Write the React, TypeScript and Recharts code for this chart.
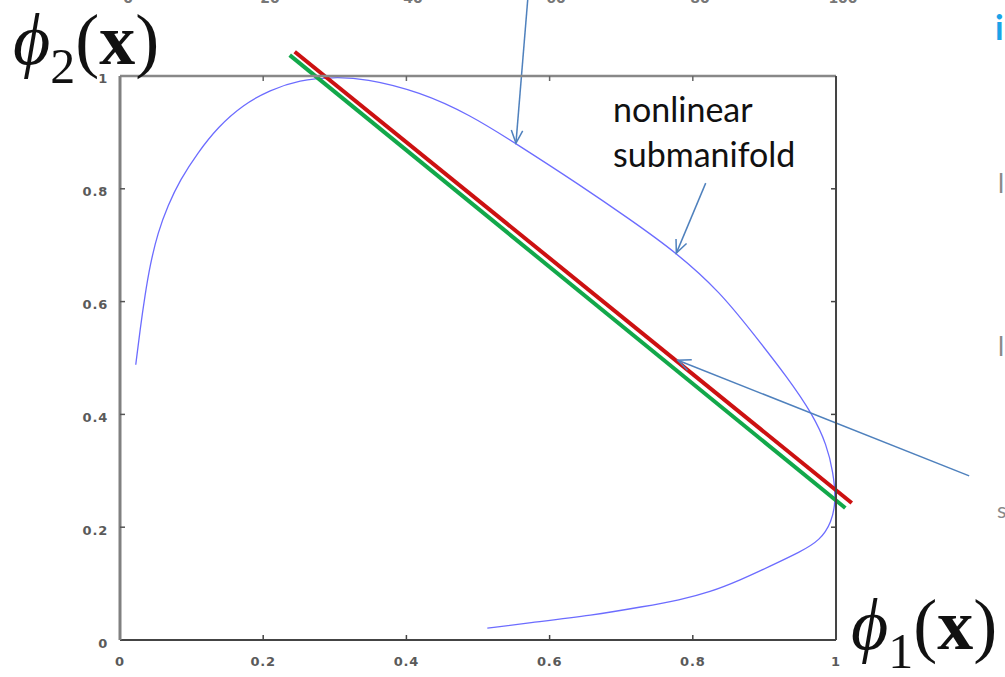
import React from 'react'
import { ComposedChart, Line, XAxis, YAxis, ReferenceLine } from 'recharts'

// axis ticks
const tickValues = [0, 0.2, 0.4, 0.6, 0.8, 1]
const tickLabels = ['0', '0.2', '0.4', '0.6', '0.8', '1']
const innerTicks = [0.2, 0.4, 0.6, 0.8]

// blue curve (nonlinear submanifold), points in drawing order
const curveX = [
  0.022, 0.028, 0.035, 0.042, 0.053, 0.067, 0.084, 0.108, 0.137, 0.172, 0.209, 0.251, 0.297,
  0.342, 0.419, 0.489, 0.552, 0.642, 0.712, 0.778, 0.838, 0.884, 0.932, 0.968, 0.987,
  0.996, 1.0, 0.994, 0.978, 0.95, 0.908, 0.866, 0.824, 0.782, 0.73, 0.661, 0.568, 0.513,
]
const curveY = [
  0.488, 0.55, 0.612, 0.665, 0.723, 0.771, 0.816, 0.863, 0.91, 0.949, 0.975, 0.993, 0.998,
  0.996, 0.972, 0.931, 0.881, 0.807, 0.746, 0.686, 0.617, 0.544, 0.466, 0.399, 0.346,
  0.298, 0.248, 0.209, 0.177, 0.156, 0.131, 0.106, 0.085, 0.071, 0.059, 0.044, 0.03, 0.021,
]

// straight fits (start, end)
const redLineX = [0.244, 1.022]
const redLineY = [1.043, 0.243]
const greenLineX = [0.237, 1.013]
const greenLineY = [1.037, 0.234]

// annotation arrows: tail -> head
const arrowTailX = [0.57, 0.818, 1.186]
const arrowTailY = [1.144, 0.81, 0.291]
const arrowHeadX = [0.553, 0.777, 0.779]
const arrowHeadY = [0.881, 0.686, 0.496]

// cut-off tick labels of the plot above
const aboveLabels = ['0', '20', '40', '60', '80', '100']
const aboveLabelX = [128, 270, 413, 556, 700, 843]

const curveData = curveX.map((x, i) => ({ x, y: curveY[i] }))

const labelFont = '"DejaVu Sans", sans-serif'
const mathFont = '"Liberation Serif", "DejaVu Serif", serif'

const BottomTick = ({ x, y, payload }: any) => {
  const axisY = y - 21
  const v = payload.value
  const i = tickValues.indexOf(v)
  return (
    <g>
      {v !== 0 && v !== 1 && (
        <line x1={x} x2={x} y1={axisY} y2={axisY - 5} stroke="#444" strokeWidth={1.5} />
      )}
      <text x={x} y={y} dominantBaseline="central" textAnchor="middle" fontFamily={labelFont}
        fontWeight="bold" fontSize={13} fill="#5a5a5a" letterSpacing={0.8}>
        {tickLabels[i]}
      </text>
    </g>
  )
}

const LeftTick = ({ x, y, payload }: any) => {
  const axisX = x + 12
  const v = payload.value
  const i = tickValues.indexOf(v)
  return (
    <g>
      {v !== 0 && v !== 1 && (
        <line x1={axisX} x2={axisX + 5} y1={y} y2={y} stroke="#555" strokeWidth={1.5} />
      )}
      <text x={x} y={y + 3} dominantBaseline="central" textAnchor="end" fontFamily={labelFont}
        fontWeight="bold" fontSize={13} fill="#5a5a5a" letterSpacing={0.8}>
        {tickLabels[i]}
      </text>
    </g>
  )
}

const Arrow = (props: any) => {
  const { x1, y1, x2, y2 } = props
  const ang = Math.atan2(y2 - y1, x2 - x1)
  const len = 14
  const spread = 0.42
  const ax = x2 - len * Math.cos(ang - spread)
  const ay = y2 - len * Math.sin(ang - spread)
  const bx = x2 - len * Math.cos(ang + spread)
  const by = y2 - len * Math.sin(ang + spread)
  return (
    <g>
      <line x1={x1} y1={y1} x2={x2} y2={y2} stroke="#4f81bd" strokeWidth={1.5} />
      <polyline points={`${ax},${ay} ${x2},${y2} ${bx},${by}`} fill="none" stroke="#4f81bd"
        strokeWidth={1.5} />
    </g>
  )
}

export default function App() {
  return (
    <div style={{ position: 'absolute', left: 0, top: 0, width: 1005, height: 677, background: '#fff', overflow: 'hidden' }}>
      <ComposedChart width={1005} height={677} data={curveData}
        margin={{ top: 75.99, right: 168.99, bottom: 7, left: 80 }}>
        <XAxis xAxisId="b" dataKey="x" type="number" domain={[0, 1]} ticks={tickValues}
          height={30} tickSize={0} tickMargin={21} tickLine={false} tick={<BottomTick />}
          axisLine={{ stroke: '#444', strokeWidth: 2 }} interval={0} />
        <XAxis xAxisId="t" dataKey="x" orientation="top" type="number" domain={[0, 1]} ticks={innerTicks}
          height={0.01} mirror tickSize={5} tickFormatter={() => ''}
          tickLine={{ stroke: '#666', strokeWidth: 1.5 }}
          axisLine={{ stroke: '#888', strokeWidth: 2.5 }} interval={0} />
        <YAxis yAxisId="l" type="number" domain={[0, 1]} ticks={tickValues} width={40}
          tickSize={0} tickMargin={12} tickLine={false} tick={<LeftTick />}
          axisLine={{ stroke: '#808080', strokeWidth: 3 }} interval={0} />
        <YAxis yAxisId="r" orientation="right" type="number" domain={[0, 1]} ticks={innerTicks}
          width={0.01} mirror tickSize={5} tickFormatter={() => ''}
          tickLine={{ stroke: '#444', strokeWidth: 1.5 }}
          axisLine={{ stroke: '#444', strokeWidth: 2 }} interval={0} />

        {/* invisible series so the frame axes get a domain */}
        <Line xAxisId="t" yAxisId="r" dataKey="y" stroke="none" dot={false} activeDot={false}
          isAnimationActive={false} legendType="none" />
        <Line xAxisId="b" yAxisId="l" dataKey="y" type="basis" stroke="#6c6cff" strokeWidth={1.3}
          dot={false} activeDot={false} isAnimationActive={false} />

        <ReferenceLine xAxisId="b" yAxisId="l" ifOverflow="visible"
          segment={[{ x: greenLineX[0], y: greenLineY[0] }, { x: greenLineX[1], y: greenLineY[1] }]}
          stroke="#12a84a" strokeWidth={4} />
        <ReferenceLine xAxisId="b" yAxisId="l" ifOverflow="visible"
          segment={[{ x: redLineX[0], y: redLineY[0] }, { x: redLineX[1], y: redLineY[1] }]}
          stroke="#cc1111" strokeWidth={4} />

        {arrowTailX.map((tx, i) => (
          <ReferenceLine key={i} xAxisId="b" yAxisId="l" ifOverflow="visible"
            segment={[{ x: tx, y: arrowTailY[i] }, { x: arrowHeadX[i], y: arrowHeadY[i] }]}
            shape={Arrow} />
        ))}
      </ComposedChart>

      <svg width={1005} height={677} style={{ position: 'absolute', left: 0, top: 0, pointerEvents: 'none' }}>
        {aboveLabels.map((t, i) => (
          <text key={t} x={aboveLabelX[i]} y={3} textAnchor="middle" fontFamily={labelFont}
            fontWeight="bold" fontSize={14} fill="#777">{t}</text>
        ))}
        <text x={995} y={40} fontFamily="Lato, sans-serif" fontWeight="bold" fontSize={34} fill="#1aa3e8">i</text>
        <text x={998} y={193} fontFamily="Lato, sans-serif" fontSize={26} fill="#8a8a8a">l</text>
        <text x={998} y={356} fontFamily="Lato, sans-serif" fontSize={26} fill="#8a8a8a">l</text>
        <text x={997} y={518} fontFamily="Lato, sans-serif" fontSize={22} fill="#8a8a8a">s</text>

        <text x={613} y={122} fontFamily="Lato, sans-serif" fontSize={34} fill="#111">nonlinear</text>
        <text x={613} y={167} fontFamily="Lato, sans-serif" fontSize={34} fill="#111">submanifold</text>

        <text x={13} y={64} fontFamily={mathFont} fontSize={72} fill="#111">
          <tspan fontStyle="italic">ϕ</tspan>
          <tspan fontSize={50} dy={19}>2</tspan>
          <tspan dy={-19}>(</tspan>
          <tspan fontWeight="bold">x</tspan>
          <tspan>)</tspan>
        </text>
        <text x={851} y={649} fontFamily={mathFont} fontSize={72} fill="#111">
          <tspan fontStyle="italic">ϕ</tspan>
          <tspan fontSize={50} dy={19}>1</tspan>
          <tspan dy={-19}>(</tspan>
          <tspan fontWeight="bold">x</tspan>
          <tspan>)</tspan>
        </text>
      </svg>
    </div>
  )
}
